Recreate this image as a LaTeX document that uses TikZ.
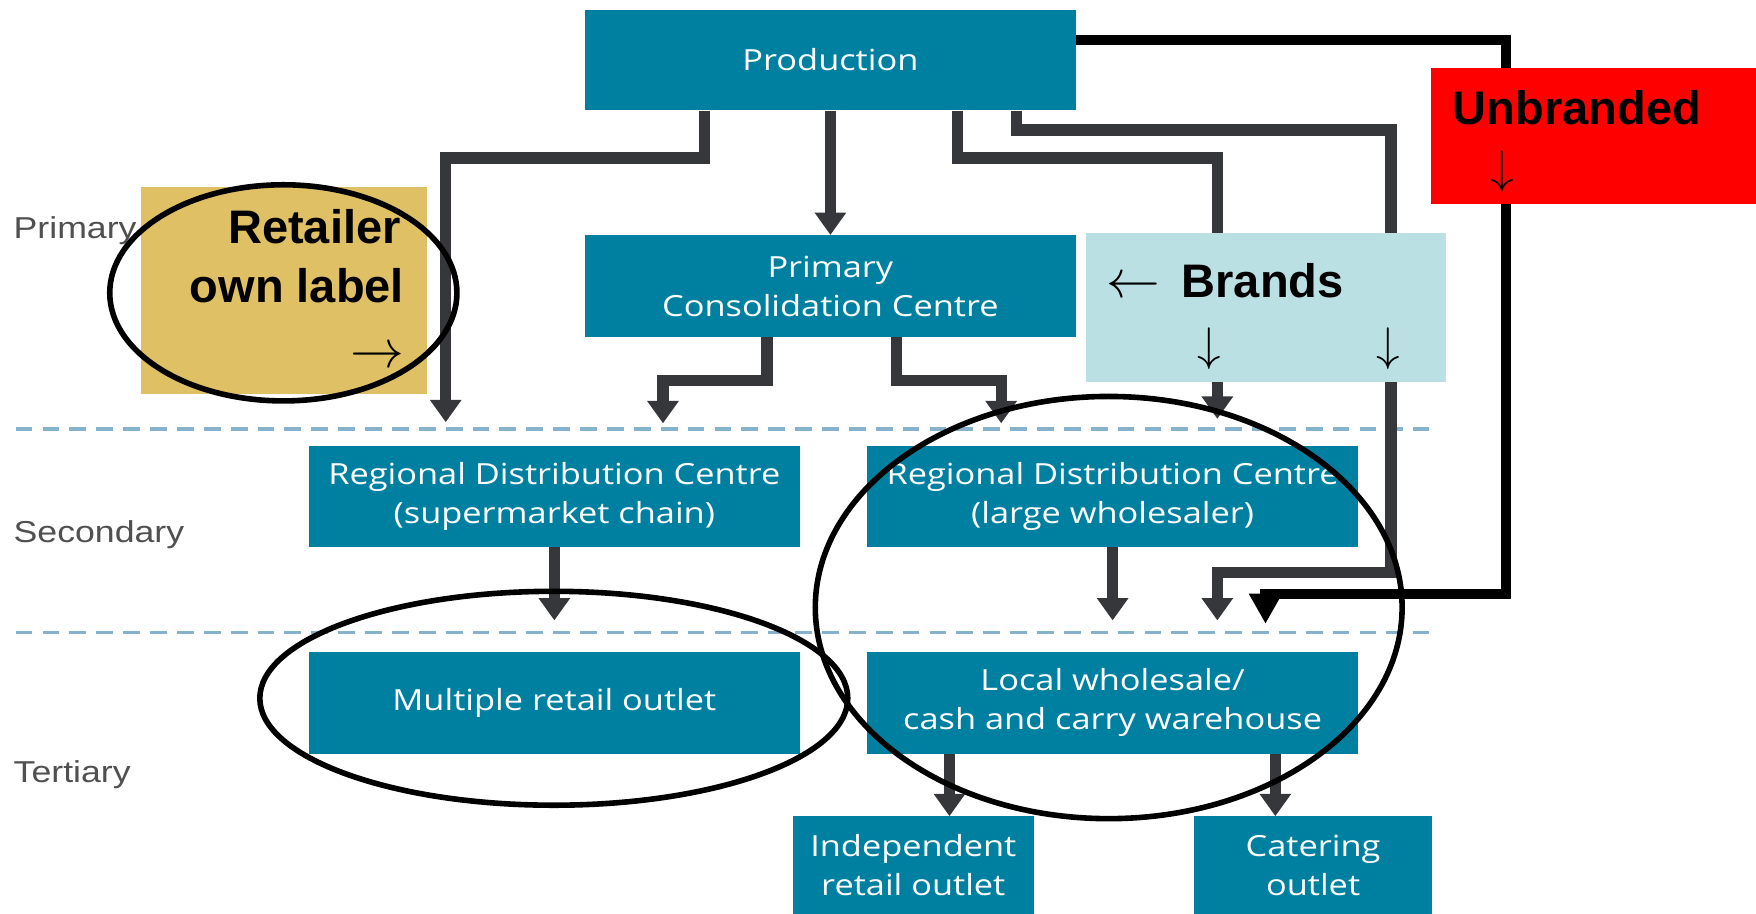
\documentclass[tikz,border=0pt]{standalone}
\usepackage{fontspec}
\usepackage{graphicx}
\setmainfont{Liberation Sans}
\newfontfamily\boxfont[FakeStretch=1.18]{Open Sans}
\newfontfamily\labfont[FakeStretch=1.18]{Liberation Sans}
\usetikzlibrary{arrows.meta,backgrounds}
\definecolor{tealc}{RGB}{0,128,161}
\definecolor{brandc}{RGB}{187,224,227}
\definecolor{goldc}{RGB}{224,192,100}
\definecolor{redc}{RGB}{255,0,0}
\definecolor{connc}{RGB}{54,55,59}
\definecolor{dashc}{RGB}{134,179,203}
\definecolor{labc}{RGB}{80,80,80}
\newcommand{\harr}[1]{{\fontsize{10}{12}\selectfont\scalebox{4.8}{$#1$}}}
\newcommand{\varr}{{\fontsize{10}{12}\selectfont\scalebox{4.2}{$\downarrow$}}}
\tikzset{
  tbox/.style={fill=tealc, text=white, font=\boxfont\fontsize{26}{35}\selectfont, align=center, inner sep=0pt},
  plainbox/.style={inner sep=0pt, draw=none},
  lab/.style={text=labc, font=\labfont\fontsize{27}{30}\selectfont, anchor=base west, inner sep=0pt},
  bigbold/.style={text=black, font=\fontsize{42}{48}\selectfont\bfseries, inner sep=0pt},
  arrglyph/.style={text=black, inner sep=0pt},
  conn/.style={draw=connc, line width=10pt, -{Triangle[width=27pt,length=20pt]}},
  ubline/.style={draw=black, line width=9pt, -{Triangle[width=28pt,length=27pt]}},
  dashline/.style={draw=dashc, line width=3pt, dash pattern=on 15pt off 9pt},
  ring/.style={draw=black, line width=5pt}
}
\begin{document}
\begin{tikzpicture}[x=1pt,y=-1pt]
\useasboundingbox (0,0) rectangle (1568,816);

% teal boxes
\node[tbox, minimum width=439pt, minimum height=90pt] (prod) at (741.5,53.5) {Production};
\node[tbox, minimum width=439pt, minimum height=91pt] (pcc) at (741.5,255.5) {Primary\\Consolidation Centre};
\node[tbox, minimum width=438pt, minimum height=90pt] (rdc1) at (495,443) {Regional Distribution Centre\\(supermarket chain)};
\node[tbox, minimum width=439pt, minimum height=90pt] (rdc2) at (993.5,443) {Regional Distribution Centre\\(large wholesaler)};
\node[tbox, minimum width=438pt, minimum height=91pt] (mro) at (495,627.5) {Multiple retail outlet};
\node[tbox, minimum width=439pt, minimum height=91pt] (lw) at (993.5,627.5) {Local wholesale/\\cash and carry warehouse};
\node[tbox, minimum width=215pt, minimum height=87pt] (indep) at (815.5,772.5) {Independent\\retail outlet};
\node[tbox, minimum width=213pt, minimum height=87pt] (cater) at (1172.5,772.5) {Catering\\outlet};

% coloured boxes
\node[plainbox, fill=brandc, minimum width=321pt, minimum height=133pt] (brands) at (1130.5,274.5) {};
\node[plainbox, fill=goldc, minimum width=255pt, minimum height=185pt] (retail) at (253.5,259.5) {};
\node[plainbox, fill=redc, minimum width=290pt, minimum height=121pt] (unbr) at (1423,121.5) {};

% texts in coloured boxes
\node[bigbold, anchor=base east] (ret1) at (358,217) {Retailer};
\node[bigbold, anchor=base east] (ret2) at (361,270) {own label};
\node[arrglyph, anchor=base] (ret3) at (337,328) {\harr{\rightarrow}};
\node[bigbold, anchor=base west] (brt) at (988,266) {\harr{\leftarrow}\hspace{19pt}Brands};
\node[arrglyph] (bd1) at (1080,311) {\varr};
\node[arrglyph] (bd2) at (1240,311) {\varr};
\node[bigbold, anchor=base west] (unbt) at (1297,111) {Unbranded};
\node[arrglyph] (ud) at (1341,153) {\varr};

% level labels
\node[lab] (lprim) at (12,213) {Primary};
\node[lab] (lsec) at (12,484) {Secondary};
\node[lab] (lter) at (12,699) {Tertiary};

% end points
\coordinate (e1) at (398,377);
\coordinate (e3) at (1087,374);
\coordinate (e4) at (1087,554);
\coordinate (e5) at (592,378);
\coordinate (e6) at (894,378);
\coordinate (e7) at (495,554);
\coordinate (e8) at (993.5,554);
\coordinate (ue) at (1130,557);
\coordinate (s9) at ([xshift=74pt]lw.south west);
\coordinate (s10) at ([xshift=365pt]lw.south west);

\begin{pgfonlayer}{background}
\draw[dashline] (14,383) -- (1276,383);
\draw[dashline] (14,565) -- (1276,565);
\draw[conn] ([xshift=107pt]prod.south west) |- (398,141) -- (e1);
\draw[conn] (prod) -- (pcc);
\draw[conn] ([xshift=333pt]prod.south west) |- (1087,141) -- (e3);
\draw[conn] ([xshift=386pt]prod.south west) |- (1242,116) -- (1242,511) -| (e4);
\draw[conn] ([xshift=163pt]pcc.south west) |- (592,340) -- (e5);
\draw[conn] ([xshift=279pt]pcc.south west) |- (894,340) -- (e6);
\draw[conn] (rdc1) -- (e7);
\draw[conn] (rdc2) -- (e8);
\draw[conn] (s9) -- (s9 |- indep.north);
\draw[conn] (s10) -- (s10 |- cater.north);
\draw[ubline] ([yshift=-27.5pt]prod.north east) -| (1345,530) -- (1130,530) -- (ue);
\end{pgfonlayer}

% ellipses
\draw[ring] (253,261.5) ellipse [x radius=155, y radius=96.5];
\draw[ring] (494.5,623.5) ellipse [x radius=262.5, y radius=95.5];
\draw[ring] (990,542.5) ellipse [x radius=262, y radius=188.5];
\end{tikzpicture}
\end{document}
